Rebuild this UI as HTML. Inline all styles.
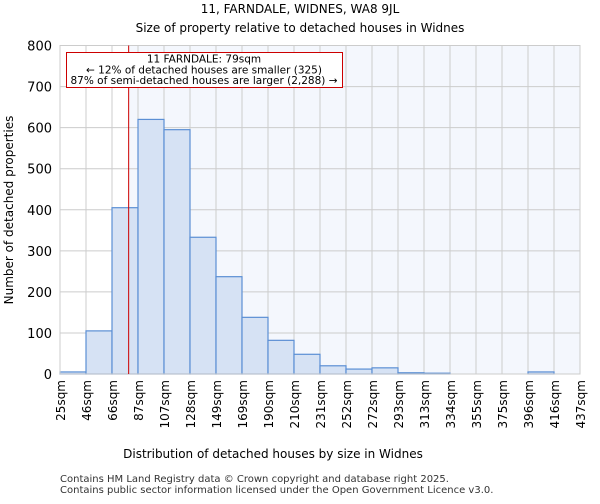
<!DOCTYPE html>
<html><head><meta charset="utf-8"><style>
body{margin:0;background:#fff;font-family:"DejaVu Sans","Liberation Sans",sans-serif}
</style></head><body>
<svg id="c" width="600" height="500" xmlns="http://www.w3.org/2000/svg" font-family="DejaVu Sans, Liberation Sans, sans-serif">
<text x="300" y="13" text-anchor="middle" font-size="12">11, FARNDALE, WIDNES, WA8 9JL</text>
<text x="300" y="32" text-anchor="middle" font-size="12">Size of property relative to detached houses in Widnes</text>
<g id="plot"></g>
<text x="273" y="458" text-anchor="middle" font-size="12">Distribution of detached houses by size in Widnes</text>
<text transform="translate(13,210) rotate(-90)" text-anchor="middle" font-size="12">Number of detached properties</text>
<text x="60" y="482" font-size="10" fill="#333">Contains HM Land Registry data © Crown copyright and database right 2025.</text>
<text x="60" y="493" font-size="10" fill="#333">Contains public sector information licensed under the Open Government Licence v3.0.</text>
</svg>
<script>
const binLabels=["25sqm","46sqm","66sqm","87sqm","107sqm","128sqm","149sqm","169sqm","190sqm","210sqm","231sqm","252sqm","272sqm","293sqm","313sqm","334sqm","355sqm","375sqm","396sqm","416sqm","437sqm"];
const counts=[5,105,405,620,595,333,237,138,82,48,20,12,15,3,2,0,0,0,5,0];
const yTicks=[0,100,200,300,400,500,600,700,800];
const propertySize=79;
const binStart=25, binEnd=437;
const NS="http://www.w3.org/2000/svg";
const L=60,R=580,T=45.5,B=374;
const x=i=>L+i*(R-L)/counts.length;
const xv=v=>L+(v-binStart)/(binEnd-binStart)*(R-L);
const y=v=>B-v/800*(B-T);
const g=document.getElementById('plot');
function mk(t,a){const e=document.createElementNS(NS,t);for(const k in a)e.setAttribute(k,a[k]);g.appendChild(e);return e;}
const px=xv(propertySize)+0.5;
let e=mk('rect',{x:px,y:T,width:R-px,height:B-T,fill:'#f4f7fd'});


yTicks.forEach(v=>{const l=mk('line',{x1:L,x2:R,y1:y(v),y2:y(v),stroke:'#ccc','stroke-width':1});


const t=mk('text',{x:L-8,y:y(v)+5,'text-anchor':'end','font-size':13});t.textContent=v;

});
binLabels.forEach((s,i)=>{const l=mk('line',{x1:x(i),x2:x(i),y1:T,y2:B,stroke:'#ccc','stroke-width':1});


const t=mk('text',{transform:`translate(${x(i)+5},${B+6}) rotate(-90)`,'text-anchor':'end','font-size':12});t.textContent=s;

});
counts.forEach((c,i)=>{if(c<=0)return;const r=mk('rect',{x:x(i),y:y(c),width:x(i+1)-x(i),height:B-y(c),fill:'#d6e2f4',stroke:'#5b8fd4','stroke-width':1.2});

});
e=mk('rect',{x:L,y:T,width:R-L,height:B-T,fill:'none',stroke:'#ccc'});


e=mk('line',{x1:px,x2:px,y1:T,y2:B,stroke:'#cc0000','stroke-width':1});


e=mk('rect',{x:66.5,y:52.5,width:276,height:35,fill:'#fff',stroke:'#cc0000'});


["11 FARNDALE: 79sqm","← 12% of detached houses are smaller (325)","87% of semi-detached houses are larger (2,288) →"].forEach((s,i)=>{const t=mk('text',{x:204,y:62.5+i*10.8,'text-anchor':'middle','font-size':10.5});t.textContent=s;

});
</script>
</body></html>
